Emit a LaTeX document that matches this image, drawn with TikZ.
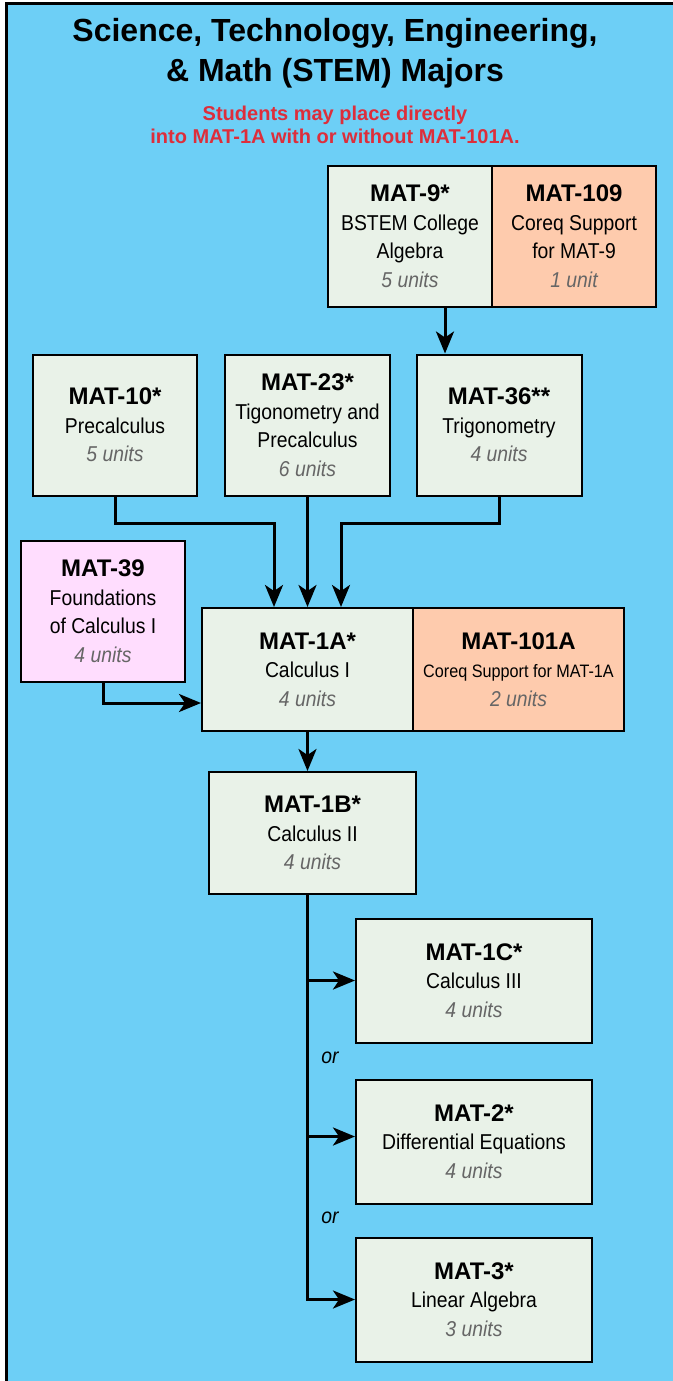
\documentclass[tikz,border=0pt]{standalone}
\usepackage{fontspec}
\setmainfont{Liberation Sans}
\newfontfamily\boxfont{Liberation Sans}[FakeStretch=0.9]
\usepackage{tikz}
\usepackage{xcolor}
\usetikzlibrary{arrows.meta}
\definecolor{bg}{HTML}{6DCFF6}
\definecolor{course}{HTML}{E9F2E8}
\definecolor{coreq}{HTML}{FECBAD}
\definecolor{bridge}{HTML}{FFDDFE}
\definecolor{note}{HTML}{DD2E3B}
\definecolor{units}{HTML}{666666}
\tikzset{course/.style={draw=black,fill=course,line width=2pt,inner sep=0pt,align=center,font=\boxfont\fontsize{21.5}{28.5}\selectfont}}
\tikzset{coreq/.style={course,fill=coreq}}
\tikzset{bridge/.style={course,fill=bridge}}
\tikzset{flow/.style={line width=3pt,-{Stealth[length=22pt,width=18pt,inset=6pt]}}}
\newcommand{\crs}[3]{{\rmfamily\bfseries\fontsize{24}{28.5}\selectfont #1}\\#2\\{\itshape\color{units}#3}}

\begin{document}
\begin{tikzpicture}[x=1pt,y=-1pt]
    \useasboundingbox (0,0) rectangle (672,1381);
    \fill[white] (0,0) rectangle (672,1381);
    \draw[line width=2.5pt,fill=bg] (6.5,3.5) rectangle (700,1400);

    \node[align=center,font=\bfseries\fontsize{32}{40}\selectfont] (title) at (335,53.4)
        {Science, Technology, Engineering,\\\& Math (STEM) Majors};
    \node[align=center,text=note,font=\bfseries\fontsize{20}{23.5}\selectfont] (note) at (335,125)
        {Students may place directly\\into MAT-1A with or without MAT-101A.};

    \node[course,minimum width=164,minimum height=141] (mat9) at (410,236)
        {\crs{MAT-9*}{BSTEM College\\Algebra}{5 units}};
    \node[coreq,minimum width=164,minimum height=141] (mat109) at (574,236)
        {\crs{MAT-109}{Coreq Support\\for MAT-9}{1 unit}};

    \node[course,minimum width=164,minimum height=141] (mat10) at (115,425)
        {\crs{MAT-10*}{Precalculus}{5 units}};
    \node[course,minimum width=165,minimum height=141] (mat23) at (307.5,425)
        {\crs{MAT-23*}{Tigonometry and\\Precalculus}{6 units}};
    \node[course,minimum width=165,minimum height=141] (mat36) at (499,425)
        {\crs{MAT-36**}{Trigonometry}{4 units}};

    \node[bridge,minimum width=164,minimum height=141] (mat39) at (103,611)
        {\crs{MAT-39}{Foundations\\of Calculus I}{4 units}};
    \node[course,minimum width=211,minimum height=123] (mat1a) at (307.5,669.5)
        {\crs{MAT-1A*}{Calculus I}{4 units}};
    \node[coreq,minimum width=211,minimum height=123] (mat101a) at (518.5,669.5)
        {\crs{MAT-101A}{{\fontsize{18}{28.5}\selectfont Coreq Support for MAT-1A}}{2 units}};

    \node[course,minimum width=207,minimum height=122] (mat1b) at (312.5,833)
        {\crs{MAT-1B*}{Calculus II}{4 units}};

    \node[course,minimum width=236,minimum height=124] (mat1c) at (474,980.5)
        {\crs{MAT-1C*}{Calculus III}{4 units}};
    \node[course,minimum width=236,minimum height=124] (mat2) at (474,1141.5)
        {\crs{MAT-2*}{Differential Equations}{4 units}};
    \node[course,minimum width=236,minimum height=124] (mat3) at (474,1299.5)
        {\crs{MAT-3*}{Linear Algebra}{3 units}};

    \node[font=\boxfont\itshape\fontsize{21.5}{25}\selectfont] (or1) at (330,1058) {or};
    \node[font=\boxfont\itshape\fontsize{21.5}{25}\selectfont] (or2) at (330,1218) {or};

    \draw[flow] ([xshift=35pt]mat9.south) -- ([xshift=35pt]mat9.south |- mat36.north);

    \draw[flow] (mat10.south) -- ++(0,26.5) -| ([xshift=-33.5pt]mat1a.north);
    \draw[flow] (mat23.south) -- (mat1a.north);
    \draw[flow] (mat36.south) -- ++(0,26.5) -| ([xshift=33.5pt]mat1a.north);
    \draw[flow] (mat39.south) |- ([yshift=-33.5pt]mat1a.west);

    \draw[flow] (mat1a.south) -- (mat1a.south |- mat1b.north);

    \draw[flow] (mat1a.south |- mat1b.south) |- (mat3.west);
    \draw[flow] (mat1a.south |- mat1c.west) -- (mat1c.west);
    \draw[flow] ([yshift=5pt]mat1a.south |- mat2.west) -- ([yshift=5pt]mat2.west);
\end{tikzpicture}
\end{document}
